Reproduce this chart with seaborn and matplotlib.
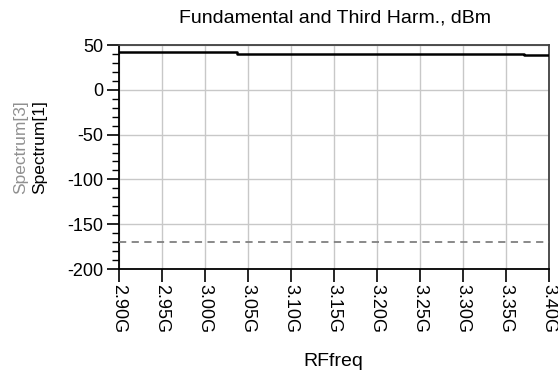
import matplotlib
matplotlib.use("Agg")
import matplotlib.pyplot as plt
from matplotlib.ticker import MultipleLocator
import seaborn as sns
import pandas as pd

# Data
fund_freq_ghz = [2.90, 3.037, 3.037, 3.371, 3.371, 3.40]
fund_dbm = [41.9, 41.9, 39.6, 39.6, 38.5, 38.5]
harm3_freq_ghz = [2.90, 3.40]
harm3_dbm = [-170.0, -170.0]
xticks = [2.90, 2.95, 3.00, 3.05, 3.10, 3.15, 3.20, 3.25, 3.30, 3.35, 3.40]
xtick_labels = ["2.90G", "2.95G", "3.00G", "3.05G", "3.10G", "3.15G",
                "3.20G", "3.25G", "3.30G", "3.35G", "3.40G"]
yticks = [50, 0, -50, -100, -150, -200]

sns.set_style("white")
plt.rcParams["font.family"] = ["Liberation Sans", "DejaVu Sans"]
plt.rcParams["text.color"] = "black"
plt.rcParams["xtick.color"] = "black"
plt.rcParams["ytick.color"] = "black"

fig = plt.figure(figsize=(5.58, 3.72), dpi=100)
ax = fig.add_axes([119 / 558, 1 - 269 / 372, (549 - 119) / 558, (269 - 45) / 372])

df1 = pd.DataFrame({"f": fund_freq_ghz, "v": fund_dbm})
df3 = pd.DataFrame({"f": harm3_freq_ghz, "v": harm3_dbm})
sns.lineplot(data=df3, x="f", y="v", ax=ax, color="#808080", lw=1.3,
             linestyle=(0, (4, 3)), sort=False, estimator=None, zorder=3)
sns.lineplot(data=df1, x="f", y="v", ax=ax, color="black", lw=1.8,
             sort=False, estimator=None, zorder=4)

ax.set_xlim(2.90, 3.40)
ax.set_ylim(-200, 50)
ax.set_xticks(xticks)
ax.set_xticklabels(xtick_labels, rotation=-90, fontsize=13)
ax.set_yticks(yticks)
ax.set_yticklabels([str(t) for t in yticks], fontsize=13)
ax.yaxis.set_minor_locator(MultipleLocator(10))
ax.grid(True, which="major", color="#c8c8c8", lw=1.0)
ax.set_axisbelow(True)
ax.tick_params(axis="both", which="major", direction="out", length=9, width=1.2,
               color="black", pad=2, left=True, bottom=True)
ax.tick_params(axis="y", which="minor", direction="out", length=5, width=1.0,
               color="black", left=True)
for s in ax.spines.values():
    s.set_color("black")
    s.set_linewidth(1.3)
ax.spines["top"].set_color("#404040")
ax.spines["right"].set_color("#404040")

ax.set_xlabel("")
ax.set_ylabel("")
fig.text(335 / 558, 1 - 18 / 372, "Fundamental and Third Harm., dBm",
         ha="center", va="center", fontsize=14)
fig.text(333 / 558, 1 - 362 / 372, "RFfreq", ha="center", va="center", fontsize=14)
fig.text(21 / 558, 1 - 147 / 372, "Spectrum[3]", rotation=90, ha="center",
         va="center", fontsize=12.5, color="#909090")
fig.text(40 / 558, 1 - 147 / 372, "Spectrum[1]", rotation=90, ha="center",
         va="center", fontsize=12.5, color="black")

fig.savefig("out.png", dpi=100)
